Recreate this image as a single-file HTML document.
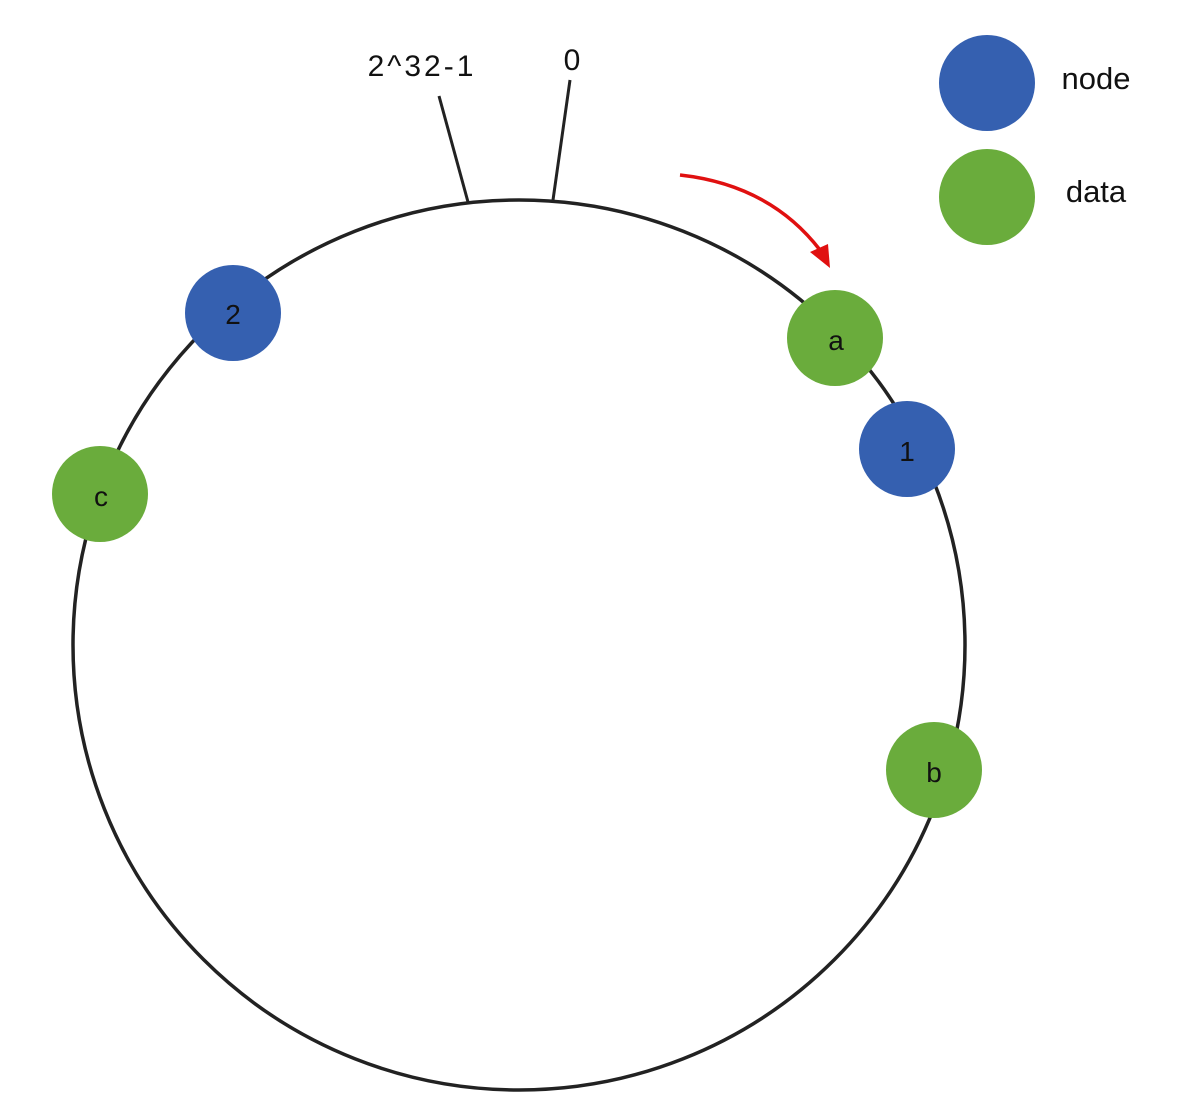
<!DOCTYPE html>
<html><head><meta charset="utf-8"><style>
html,body{margin:0;padding:0;background:#fff;}
svg{display:block;}
text{font-family:"Liberation Sans","DejaVu Sans",sans-serif;fill:#111;}
</style></head><body>
<svg width="1196" height="1108" viewBox="0 0 1196 1108" xmlns="http://www.w3.org/2000/svg">
<ellipse cx="519" cy="645" rx="446" ry="445" fill="none" stroke="#222" stroke-width="3.5"/>
<line x1="439" y1="96" x2="468" y2="202" stroke="#222" stroke-width="3"/>
<line x1="570" y1="80" x2="553" y2="200" stroke="#222" stroke-width="3"/>
<text x="422" y="76" font-size="30" text-anchor="middle" letter-spacing="3">2^32-1</text>
<text x="572" y="70" font-size="30" text-anchor="middle">0</text>
<path d="M680 175 Q770 185 820 250" fill="none" stroke="#e01010" stroke-width="3.5"/>
<polygon points="830,268 810,252 828,244" fill="#e01010"/>
<circle cx="233" cy="313" r="48" fill="#3560b0"/>
<text x="233" y="324" font-size="28" text-anchor="middle">2</text>
<circle cx="835" cy="338" r="48" fill="#6aac3c"/>
<text x="836" y="350" font-size="28" text-anchor="middle">a</text>
<circle cx="907" cy="449" r="48" fill="#3560b0"/>
<text x="907" y="461" font-size="28" text-anchor="middle">1</text>
<circle cx="100" cy="494" r="48" fill="#6aac3c"/>
<text x="101" y="506" font-size="28" text-anchor="middle">c</text>
<circle cx="934" cy="770" r="48" fill="#6aac3c"/>
<text x="934" y="782" font-size="28" text-anchor="middle">b</text>
<circle cx="987" cy="83" r="48" fill="#3560b0"/>
<text x="1096" y="89" font-size="31" text-anchor="middle">node</text>
<circle cx="987" cy="197" r="48" fill="#6aac3c"/>
<text x="1096" y="202" font-size="31" text-anchor="middle">data</text>
</svg>
</body></html>
